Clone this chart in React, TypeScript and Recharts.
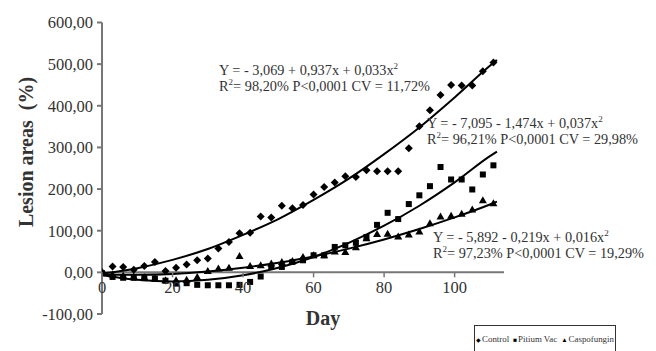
import { ComposedChart, Scatter, Line, XAxis, YAxis, ReferenceLine } from "recharts"

// sampling days (every 3 days)
const days = [0, 3, 6, 9, 12, 15, 18, 21, 24, 27, 30, 33, 36, 39, 42, 45, 48, 51, 54, 57, 60, 63, 66, 69, 72, 75, 78, 81, 84, 87, 90, 93, 96, 99, 102, 105, 108, 111]

const controlValues = [0, 14, 13, 6, 15, 25, 3, 11, 19, 29, 33, 57, 73, 94, 95, 134, 132, 160, 154, 162, 187, 205, 216, 231, 229, 245, 243, 243, 243, 298, 351, 389, 426, 450, 449, 449, 483, 504]
const pitiumValues = [-2, -11, -13, -13, -14, -15, -20, -27, -26, -30, -31, -31, -31, -30, -23, -10, 13, 13, 25, 29, 41, 41, 61, 65, 71, 85, 114, 143, 128, 164, 185, 207, 253, 223, 223, 199, 235, 257]
const caspoValues = [0, -5, -8, -10, -12, -15, -19, -19, -18, -11, 3, 9, 11, 39, 15, 17, 21, 25, 27, 37, 41, 41, 50, 49, 60, 82, 92, 93, 86, 91, 98, 118, 134, 136, 141, 151, 173, 166]

// fitted curves
const fitDays = [0, 10, 20, 30, 40, 50, 60, 70, 80, 90, 100, 110, 112]
const controlFit = [-3, 10, 30, 56, 90, 128, 174, 225, 284, 348, 420, 496, 510]
const pitiumFit = [-7, -18, -22, -18, -7, 11, 37, 71, 112, 160, 216, 279, 290]
const caspoFit = [-6, -6, -4, 2, 11, 23, 38, 57, 79, 104, 132, 163, 170]

const seriesNames = ["Control", "Pitium Vac", "Caspofungin"]
const xTicks = [0, 20, 40, 60, 80, 100]
const yTicks = [-100, 0, 100, 200, 300, 400, 500, 600]

const W = 656
const H = 351
const TOP = 22.5
const BOTTOM = 314
const ZERO_Y = TOP + ((BOTTOM - TOP) * 600) / 700
const FONT = "'Liberation Serif', 'Times New Roman', serif"
const TEXT = "#333"
const AXIS = "#777"

const toPoints = (xs: number[], ys: number[]) => xs.map((x, i) => ({ x, y: ys[i] }))

const Diamond = ({ cx, cy }: any) => (
  <polygon points={`${cx},${cy - 4} ${cx + 4},${cy} ${cx},${cy + 4} ${cx - 4},${cy}`} fill="#000" />
)
const Square = ({ cx, cy }: any) => <rect x={cx - 3} y={cy - 3} width={6} height={6} fill="#000" />
const Triangle = ({ cx, cy }: any) => (
  <polygon points={`${cx},${cy - 4} ${cx + 4},${cy + 3} ${cx - 4},${cy + 3}`} fill="#000" />
)

const XTick = ({ x, payload }: any) => (
  <g>
    <line x1={x} x2={x} y1={ZERO_Y} y2={ZERO_Y + 5} stroke={AXIS} strokeWidth={1.5} />
    <text x={x} y={ZERO_Y + 21} textAnchor="middle" fontSize={16.5} fill={TEXT} style={{ fontFamily: FONT }}>
      {payload.value}
    </text>
  </g>
)

const Sup = ({ children }: any) => (
  <tspan dy={-6} fontSize={9}>
    {children}
  </tspan>
)

const Equation = ({ x, y, eq, stats }: { x: number; y: number; eq: string; stats: string }) => (
  <g fontSize={14.3} fill={TEXT} style={{ fontFamily: FONT }}>
    <text x={x} y={y}>
      {eq}
      <Sup>2</Sup>
    </text>
    <text x={x} y={y + 16} textLength={211} lengthAdjust="spacing">
      R<Sup>2</Sup>
      <tspan dy={6}>{stats}</tspan>
    </text>
  </g>
)

const legendMarks = ["\u25C6", "\u25A0", "\u25B2"]

export default function App() {
  return (
    <div
      style={{
        position: "absolute",
        left: 0,
        top: 0,
        width: W,
        height: H,
        background: "#fff",
        overflow: "hidden",
        fontFamily: FONT,
      }}
    >
      <ComposedChart width={W} height={H} margin={{ top: TOP, right: 152, bottom: H - BOTTOM - 1, left: 0 }}>
        <XAxis
          dataKey="x"
          type="number"
          domain={[0, 114]}
          ticks={xTicks}
          axisLine={false}
          tickLine={false}
          tick={<XTick />}
          height={1}
          allowDataOverflow
        />
        <YAxis
          dataKey="y"
          type="number"
          domain={[-100, 600]}
          ticks={yTicks}
          width={102}
          tickSize={5}
          tickMargin={4}
          stroke={AXIS}
          strokeWidth={2}
          tick={{ fontSize: 16.5, fill: TEXT, style: { fontFamily: FONT } }}
          tickFormatter={(v: number) => v.toFixed(2).replace(".", ",")}
          allowDataOverflow
        />
        <ReferenceLine y={0} stroke={AXIS} strokeWidth={2} />
        <Line data={toPoints(fitDays, controlFit)} dataKey="y" type="monotone" stroke="#000" strokeWidth={2} dot={false} isAnimationActive={false} legendType="none" />
        <Line data={toPoints(fitDays, pitiumFit)} dataKey="y" type="monotone" stroke="#000" strokeWidth={2} dot={false} isAnimationActive={false} legendType="none" />
        <Line data={toPoints(fitDays, caspoFit)} dataKey="y" type="monotone" stroke="#000" strokeWidth={2} dot={false} isAnimationActive={false} legendType="none" />
        <Scatter name={seriesNames[0]} data={toPoints(days, controlValues)} dataKey="y" shape={<Diamond />} isAnimationActive={false} />
        <Scatter name={seriesNames[1]} data={toPoints(days, pitiumValues)} dataKey="y" shape={<Square />} isAnimationActive={false} />
        <Scatter name={seriesNames[2]} data={toPoints(days, caspoValues)} dataKey="y" shape={<Triangle />} isAnimationActive={false} />
      </ComposedChart>

      <svg width={W} height={H} style={{ position: "absolute", left: 0, top: 0, pointerEvents: "none" }}>
        <text
          transform="translate(32.5,152) rotate(-90)"
          textAnchor="middle"
          fontSize={20}
          fontWeight="bold"
          fill={TEXT}
          style={{ whiteSpace: "pre", fontFamily: FONT }}
        >
          Lesion areas  (%)
        </text>
        <text x={323} y={325} textAnchor="middle" fontSize={20} fontWeight="bold" fill={TEXT} style={{ fontFamily: FONT }}>
          Day
        </text>
        <Equation x={219} y={75} eq="Y = - 3,069 + 0,937x + 0,033x" stats="= 98,20% P<0,0001 CV = 11,72%" />
        <Equation x={427} y={128} eq="Y = - 7,095 - 1,474x + 0,037x" stats="= 96,21% P<0,0001 CV = 29,98%" />
        <Equation x={433} y={242} eq="Y = - 5,892 - 0,219x + 0,016x" stats="= 97,23% P<0,0001 CV = 19,29%" />
      </svg>

      <div
        style={{
          position: "absolute",
          left: 474,
          top: 325,
          width: 142,
          height: 40,
          border: "1px solid #333",
          boxSizing: "border-box",
          fontSize: 8.9,
          color: TEXT,
          paddingTop: 8,
          textAlign: "center",
          whiteSpace: "nowrap",
        }}
      >
        {seriesNames.map((name, i) => (
          <span key={name} style={{ marginLeft: i === 0 ? 0 : 4 }}>
            <span style={{ fontSize: i === 0 ? 6 : 6.5, color: "#000", marginRight: 1 }}>{legendMarks[i]}</span>
            {name}
          </span>
        ))}
      </div>
    </div>
  )
}
